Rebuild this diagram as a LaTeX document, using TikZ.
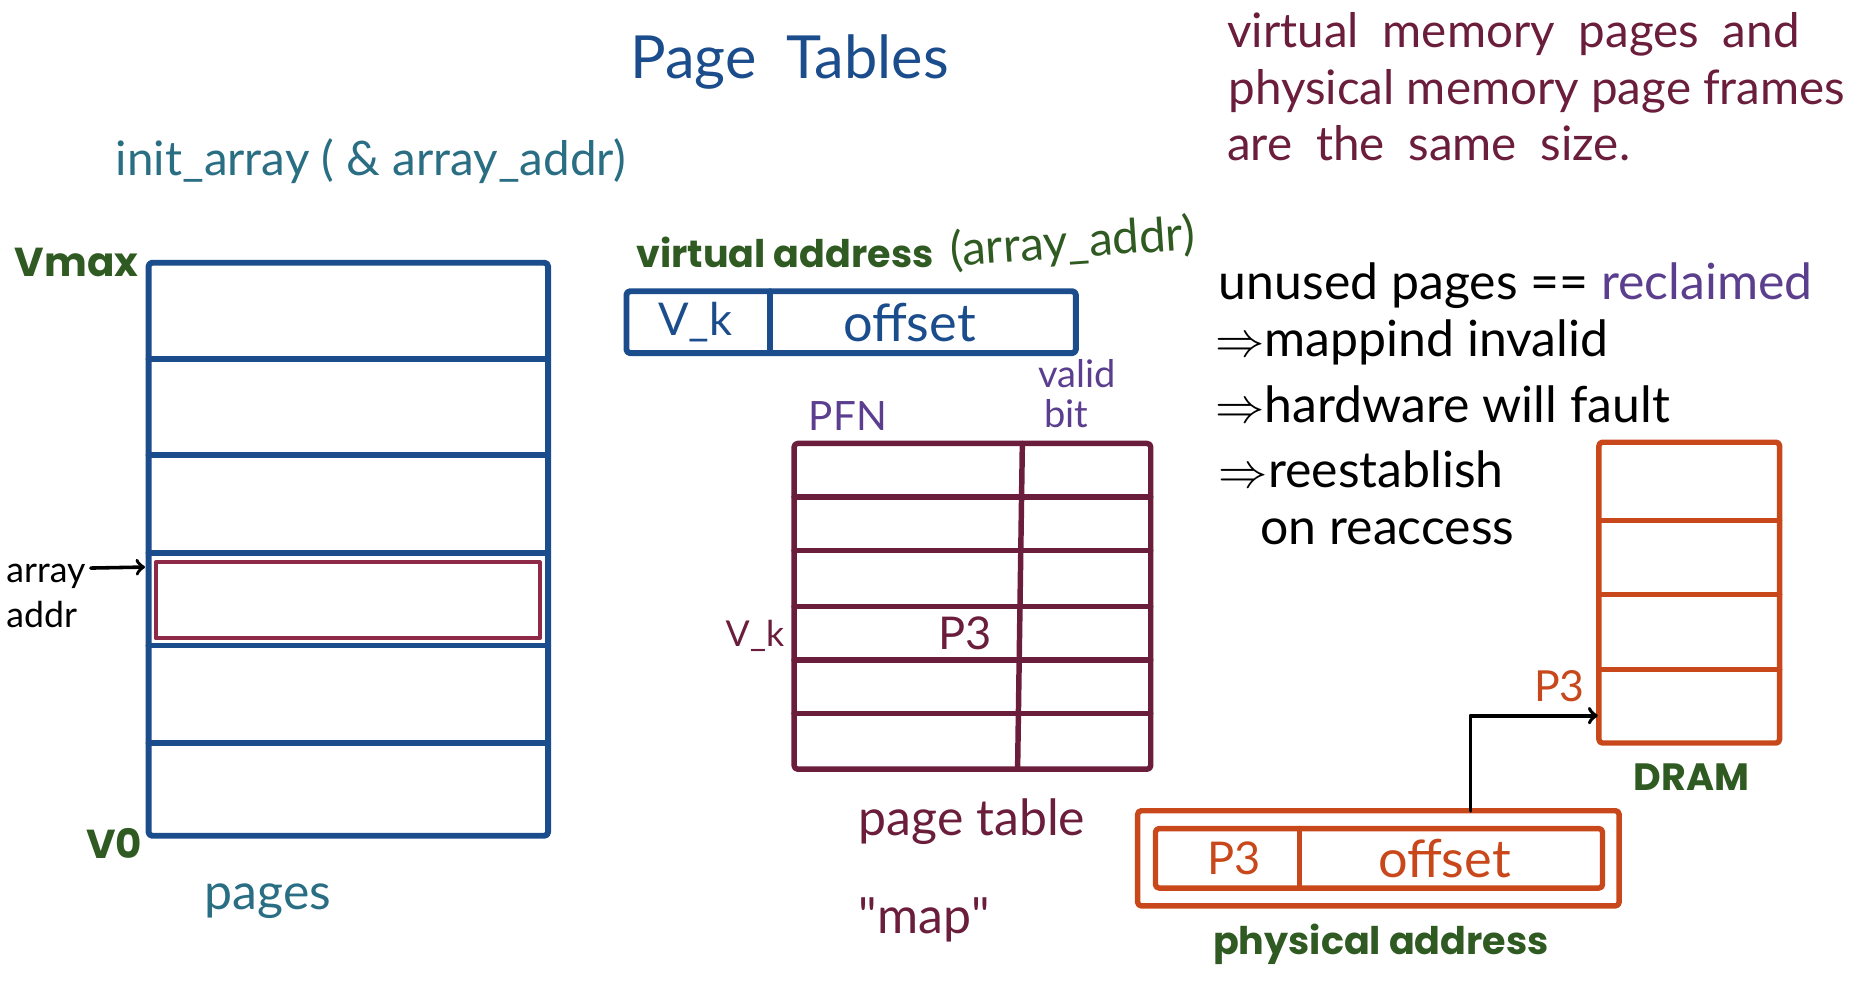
\documentclass[tikz,border=0pt]{standalone}
\usepackage{fontspec}
\setmainfont{Lato}
\newfontfamily\labelfont{Poppins}
\usepackage{tikz}
\usepackage{xcolor}
\usetikzlibrary{arrows}
\usetikzlibrary{arrows.meta,calc}
\definecolor{pageblue}{HTML}{1B4C8C}
\definecolor{inkteal}{HTML}{2A6E84}
\definecolor{labelgreen}{HTML}{2F5A22}
\definecolor{ptmaroon}{HTML}{6B1D3C}
\definecolor{inkpurple}{HTML}{5B3E8E}
\definecolor{dramorange}{HTML}{C8481C}
\definecolor{arrred}{HTML}{8E2A48}

\begin{document}
\begin{tikzpicture}[line cap=round,line join=round,>=to,x=0.5pt,y=0.5pt,
    handtxt/.style={font=\fontsize{20}{24}\selectfont,inner sep=0pt,anchor=base west},
    printlbl/.style={font=\labelfont\bfseries\fontsize{16}{19}\selectfont,text=labelgreen,inner sep=0pt,anchor=base west},
    pagebox/.style={draw=pageblue,line width=2.5pt,rounded corners=1.5pt},
    ptbox/.style={draw=ptmaroon,line width=2.3pt,rounded corners=1.5pt},
    drambox/.style={draw=dramorange,line width=2.3pt,rounded corners=1.5pt}]
                \useasboundingbox (0,0) rectangle (1568,-826);
                \node [handtxt,text=pageblue,font=\fontsize{25}{30}\selectfont] (title) at (530,-66) {Page\enspace Tables};
                \node [handtxt,text=inkteal] (initarr) at (97,-148) {init\_array ( \& array\_addr)};
                % pages
                \draw [pagebox] (125,-221) rectangle (461,-703);
                \foreach \y in {302,383,465,543,625}
                    \draw [pagebox,rounded corners=0pt] (125,-\y) -- (461,-\y);
                \draw [draw=arrred,line width=1.6pt] (131,-473) rectangle (454,-537);
                \coordinate (arrtip) at (122,-477);
                \node [printlbl,font=\labelfont\bfseries\fontsize{17}{20}\selectfont] (vmax) at (12,-233) {Vmax};
                \node [printlbl,font=\labelfont\bfseries\fontsize{17}{20}\selectfont] (vzero) at (72,-722) {V0};
                \node [handtxt,font=\fontsize{15}{18}\selectfont] (arrname) at (5,-490) {array};
                \node [handtxt,font=\fontsize{15}{18}\selectfont] (addrname) at (5,-528) {addr};
                \draw [->,line width=1.5pt] ($(arrname.east)+(4,7)$) -- (arrtip);
                \node [handtxt,text=inkteal,font=\fontsize{21}{25}\selectfont] (pages) at (172,-765) {pages};
                % virtual address
                \node [printlbl] (valbl) at (535,-225) {virtual address};
                \node [handtxt,text=labelgreen,rotate=4] (vaarg) at (800,-224) {(array\_addr)};
                \draw [pagebox] (527,-245) rectangle (905,-297);
                \draw [pagebox] (648,-245) -- (648,-297);
                \node [text=pageblue,font=\fontsize{19}{22}\selectfont] (vavk) at (585,-271) {V\_k};
                \node [text=pageblue,font=\fontsize{22}{26}\selectfont] (vaoff) at (765,-271) {offset};
                % page table
                \node [handtxt,text=inkpurple,font=\fontsize{17}{20}\selectfont] (pfn) at (680,-362) {PFN};
                \node [handtxt,text=inkpurple,font=\fontsize{16}{19}\selectfont] (valid) at (873,-326) {valid};
                \node [handtxt,text=inkpurple,font=\fontsize{16}{19}\selectfont] (bit) at (878,-360) {bit};
                \draw [ptbox] (668,-373) rectangle (968,-647);
                \foreach \y in {418,463,510,555,600}
                    \draw [ptbox,rounded corners=0pt] (668,-\y) -- (968,-\y);
                \draw [ptbox] (860,-373) -- (856,-647);
                \node [handtxt,text=ptmaroon,font=\fontsize{15}{18}\selectfont] (ptvk) at (610,-544) {V\_k};
                \node [text=ptmaroon,font=\fontsize{19}{22}\selectfont] (ptpthree) at (812,-533) {P3};
                \node [handtxt,text=ptmaroon,font=\fontsize{21}{25}\selectfont] (ptname) at (722,-703) {page table};
                \node [handtxt,text=ptmaroon,font=\fontsize{21}{25}\selectfont] (ptmap) at (722,-785) {\textquotedbl map\textquotedbl};
                % physical address
                \draw [drambox] (957,-682) rectangle (1362,-762);
                \draw [drambox] (972,-697) rectangle (1348,-747);
                \draw [drambox] (1093,-697) -- (1093,-747);
                \node [text=dramorange,font=\fontsize{19}{22}\selectfont] (papthree) at (1038,-722) {P3};
                \node [text=dramorange,font=\fontsize{22}{26}\selectfont] (paoff) at (1215,-722) {offset};
                \node [printlbl] (palbl) at (1020,-803) {physical address};
                % DRAM
                \draw [drambox] (1345,-372) rectangle (1497,-625);
                \foreach \y in {438,500,563}
                    \draw [drambox,rounded corners=0pt] (1345,-\y) -- (1497,-\y);
                \node [printlbl] (dram) at (1374,-665) {DRAM};
                \coordinate (patop) at (1237,-682);
                \coordinate (frame) at (1344,-602);
                \draw [->,line width=1.6pt] (patop) |- (frame);
                \node [handtxt,text=dramorange,font=\fontsize{18}{21}\selectfont] (framelbl) at (1290,-590) {P3};
                % notes
                \node [handtxt,text=ptmaroon] (noteone) at (1032,-40) {virtual\enspace memory\enspace pages\enspace and};
                \node [handtxt,text=ptmaroon] (notetwo) at (1033,-88) {physical memory page frames};
                \node [handtxt,text=ptmaroon] (notethree) at (1032,-135) {are\enspace the\enspace same\enspace size.};
                \node [handtxt,font=\fontsize{21}{25}\selectfont] (unused) at (1025,-252) {unused pages == {\color{inkpurple}reclaimed}};
                \node [handtxt,font=\fontsize{21}{25}\selectfont] (invalid) at (1022,-300) {$\Rightarrow$mappind invalid};
                \node [handtxt,font=\fontsize{21}{25}\selectfont] (fault) at (1022,-355) {$\Rightarrow$hardware will fault};
                \node [handtxt,font=\fontsize{21}{25}\selectfont] (reest) at (1025,-410) {$\Rightarrow$reestablish};
                \node [handtxt,font=\fontsize{21}{25}\selectfont] (reacc) at (1060,-458) {on reaccess};
\end{tikzpicture}
\end{document}
